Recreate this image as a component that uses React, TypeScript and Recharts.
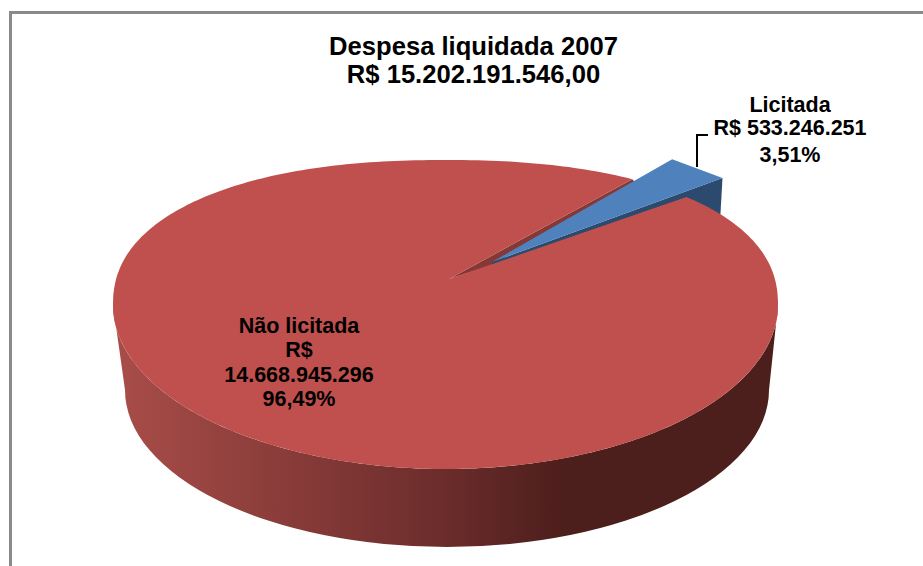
import React from "react";
import { PieChart, Pie, Cell } from "recharts";

const categories = ["Licitada", "Não licitada"];
const values = [533246251, 14668945296];
const labelLines = [
  ["Licitada", "R$ 533.246.251", "3,51%"],
  ["Não licitada", "R$", "14.668.945.296", "96,49%"],
];
const titleLines = ["Despesa liquidada 2007", "R$ 15.202.191.546,00"];
const colors = ["#4f81bd", "#c0504d"];
const data = categories.map((name, i) => ({ name, value: values[i], lines: labelLines[i] }));

const CX = 445.5;
const CY = 305;
const RX = 332.5;
const RY_UP = 145;
const RY_DOWN = 164;
const N_UP = 2.25;
const APEX = { x: 449, y: 279 };
const LOW = { cx: 447, cy: 390, rx: 322, ry: 157 };

function rimPoint(deg: number) {
  const t = (deg * Math.PI) / 180;
  const c = Math.cos(t);
  const s = Math.sin(t);
  const e = s >= 0 ? 2 / N_UP : 1;
  const ry = s >= 0 ? RY_UP : RY_DOWN;
  return {
    x: CX + Math.sign(c) * Math.pow(Math.abs(c), e) * RX,
    y: CY - Math.sign(s) * Math.pow(Math.abs(s), e) * ry,
  };
}

function rimPath(from: number, to: number) {
  const step = from > to ? -1 : 1;
  const pts: string[] = [];
  for (let a = from; step < 0 ? a > to : a < to; a += step) {
    const p = rimPoint(a);
    pts.push(`${p.x.toFixed(1)} ${p.y.toFixed(1)}`);
  }
  const e = rimPoint(to);
  pts.push(`${e.x.toFixed(1)} ${e.y.toFixed(1)}`);
  return pts.join(" L ");
}

function poly(pts: { x: number; y: number }[]) {
  return "M " + pts.map((p) => `${p.x.toFixed(1)} ${p.y.toFixed(1)}`).join(" L ") + " Z";
}

function Slice(props: any) {
  const { startAngle, endAngle, fill, index } = props;
  const hi = Math.max(startAngle, endAngle);
  const lo = Math.min(startAngle, endAngle);
  if (index === 0) {
    const p1 = rimPoint(hi);
    const p2 = rimPoint(lo);
    const a = { x: APEX.x + 43, y: APEX.y - 17 };
    const c1 = { x: p1.x + 40, y: p1.y - 20 };
    const c2 = { x: p2.x + 36, y: p2.y - 19 };
    return (
      <g>
        <path
          d={poly([APEX, p1, { x: p1.x + 3, y: p1.y + 3 }, { x: a.x, y: a.y + 3 }])}
          fill="#853836"
        />
        <path
          d={poly([c2, { x: c2.x - 4, y: c2.y + 70 }, { x: p2.x, y: p2.y + 70 }, { x: a.x, y: a.y + 6 }, a])}
          fill="#2c4a6e"
        />
        <path d={poly([a, c1, c2])} fill={fill} />
      </g>
    );
  }
  const wallLeft = rimPoint(180);
  const wallRight = rimPoint(360);
  const wall =
    `M ${wallLeft.x} ${wallLeft.y} L ${rimPath(180, 360)} ` +
    `L ${LOW.cx + LOW.rx} ${LOW.cy} ` +
    `A ${LOW.rx} ${LOW.ry} 0 0 1 ${LOW.cx - LOW.rx} ${LOW.cy} Z`;
  const top = `M ${APEX.x} ${APEX.y} L ${rimPath(hi, lo)} Z`;
  return (
    <g>
      <defs>
        <linearGradient id="wallShade" gradientUnits="userSpaceOnUse" x1={wallLeft.x} x2={wallRight.x} y1={0} y2={0}>
          <stop offset="0" stopColor="#a94d49" />
          <stop offset="0.5" stopColor="#6b2c2b" />
          <stop offset="0.68" stopColor="#4c1e1c" />
          <stop offset="1" stopColor="#4c1e1c" />
        </linearGradient>
      </defs>
      <path d={wall} fill="url(#wallShade)" />
      <path d={top} fill={fill} />
    </g>
  );
}

const labelSpots = [
  { x: 790, ys: [112, 135, 162] },
  { x: 299, ys: [333, 357, 382, 406] },
];

function SliceLabel(props: any) {
  const { index, payload } = props;
  const lines: string[] = (payload && payload.lines) || labelLines[index];
  const spot = labelSpots[index];
  return (
    <g>
      {index === 0 && <path d="M 697 167 L 697 135 L 708 135" fill="none" stroke="#000" strokeWidth={2} />}
      <text textAnchor="middle" fontFamily="Liberation Sans" fontWeight="bold" fontSize={21.5} fill="#000">
        {lines.map((l, i) => (
          <tspan key={i} x={spot.x} y={spot.ys[i]}>
            {l}
          </tspan>
        ))}
      </text>
    </g>
  );
}

export default function App() {
  return (
    <div style={{ position: "absolute", left: 0, top: 0, width: 923, height: 566, background: "#fff" }}>
      <div style={{ position: "absolute", left: 9, top: 11, width: 914, height: 555, borderLeft: "3px solid #8a8a8a", borderTop: "3px solid #8a8a8a", boxSizing: "border-box" }} />
      <div style={{ position: "absolute", left: 0, top: 0 }}>
        <PieChart width={923} height={566} margin={{ top: 0, right: 0, bottom: 0, left: 0 }}>
          <Pie
            data={data}
            dataKey="value"
            nameKey="name"
            cx={CX}
            cy={CY}
            innerRadius={0}
            outerRadius={RX}
            startAngle={58.5}
            endAngle={-301.5}
            stroke="none"
            isAnimationActive={false}
            shape={Slice}
            label={SliceLabel}
            labelLine={false}
          >
            {data.map((d, i) => (
              <Cell key={d.name} fill={colors[i]} />
            ))}
          </Pie>
          <text textAnchor="middle" fontFamily="Liberation Sans" fontWeight="bold" fontSize={25.6} fill="#000">
            <tspan x={473.5} y={55}>{titleLines[0]}</tspan>
            <tspan x={473.5} y={83}>{titleLines[1]}</tspan>
          </text>
        </PieChart>
      </div>
    </div>
  );
}
